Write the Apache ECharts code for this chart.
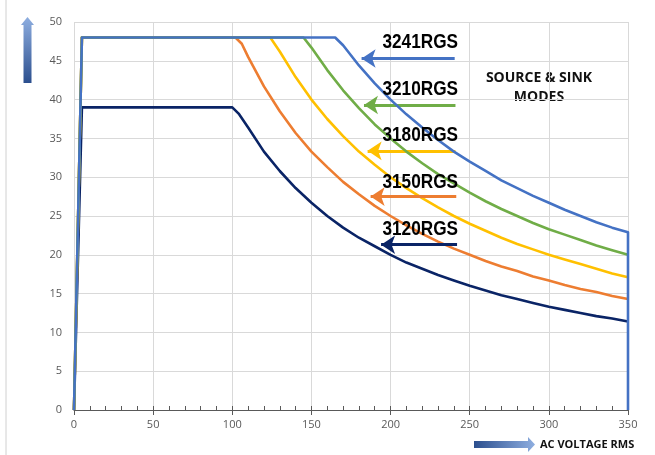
<!DOCTYPE html>
<html><head><meta charset="utf-8">
<script src="https://cdn.jsdelivr.net/npm/echarts@6/dist/echarts.min.js"></script>
<style>html,body{margin:0;padding:0;background:#fff}#c{width:655px;height:455px}</style>
</head><body><div id="c"></div>
<script>
// ---- data ----
const models = ['3120RGS','3150RGS','3180RGS','3210RGS','3241RGS'];
const colors = ['#0a2466','#ED7D31','#FFC000','#70AD47','#4472C4'];

const v3241 = [0,5,165,170,180,190,200,210,220,230,240,250,260,270,280,290,300,310,320,330,340,350,350];
const a3241 = [0,48,48,47,44.4,42.1,40,38.1,36.4,34.8,33.3,32,30.8,29.6,28.6,27.6,26.7,25.8,25,24.2,23.5,22.9,0];

const v3210 = [0,5,145,150,160,170,180,190,200,210,220,230,240,250,260,270,280,290,300,310,320,330,340,350];
const a3210 = [0,48,48,46.7,43.8,41.2,38.9,36.8,35,33.3,31.8,30.4,29.2,28,26.9,25.9,25,24.1,23.3,22.6,21.9,21.2,20.6,20];

const v3180 = [0,5,124,130,140,150,160,170,180,190,200,210,220,230,240,250,260,270,280,290,300,310,320,330,340,350];
const a3180 = [0,48,48,46.2,42.9,40,37.5,35.3,33.3,31.6,30,28.6,27.3,26.1,25,24,23.1,22.2,21.4,20.7,20,19.4,18.8,18.2,17.6,17.1];

const v3150 = [0,5,102,106,110,120,130,140,150,160,170,180,190,200,210,220,230,240,250,260,270,280,290,300,310,320,330,340,350];
const a3150 = [0,48,48,47.2,45.5,41.7,38.5,35.7,33.3,31.3,29.4,27.8,26.3,25,23.8,22.7,21.7,20.8,20,19.2,18.5,17.9,17.2,16.7,16.1,15.6,15.2,14.7,14.3];

const v3120 = [0,5,100,104,110,120,130,140,150,160,170,180,190,200,210,220,230,240,250,260,270,280,290,300,310,320,330,340,350];
const a3120 = [0,39,39,38.2,36.4,33.3,30.8,28.6,26.7,25,23.5,22.2,21.1,20,19,18.2,17.4,16.7,16,15.4,14.8,14.3,13.8,13.3,12.9,12.5,12.1,11.8,11.4];

// arrow annotations: [tipX, tailX, y]
const arrows = [[194,242,21.3],[187.4,241.5,27.5],[185.5,241,33.4],[183.2,241,39.3],[181.7,240.5,45.3]];
const labelY = [229,182.5,135.5,89,42.5];

const xTicks = {min:0,max:350,interval:50};
const yTicks = {min:0,max:50,interval:5};
// ---------------------------------------

const volts = [v3120,v3150,v3180,v3210,v3241];
const amps  = [a3120,a3150,a3180,a3210,a3241];

const chart = echarts.init(document.getElementById('c'));
const series = models.map((m,i)=>({
  name:m, type:'line', xAxisIndex:0, yAxisIndex:0,
  data: volts[i].map((v,k)=>[v,amps[i][k]]),
  showSymbol:false, smooth:false,
  lineStyle:{color:colors[i],width:2.6,join:'round'},
  itemStyle:{color:colors[i]},
  z: 2+i,
  markLine:{
    silent:true, animation:false,
    symbol:['none','arrow'], symbolSize:[14,14],
    label:{show:false},
    lineStyle:{color:colors[i],width:3,type:'solid'},
    data:[[{coord:[arrows[i][1],arrows[i][2]]},{coord:[arrows[i][0],arrows[i][2]]}]]
  }
}));

const graphics = [
  {type:'line',shape:{x1:6,y1:0,x2:6,y2:455},style:{stroke:'#d0d0d0',lineWidth:1}},
  // y-axis arrow (up)
  {type:'polygon',shape:{points:[[23.5,83],[23.5,25],[21,25],[27.5,17],[34,25],[31.5,25],[31.5,83]]},
   style:{fill:new echarts.graphic.LinearGradient(0,0,0,1,[{offset:0,color:'#8eaee0'},{offset:1,color:'#2c4f8e'}])}},
  // x-axis arrow (right)
  {type:'polygon',shape:{points:[[474,441],[528,441],[528,437],[535,444.5],[528,452],[528,448],[474,448]]},
   style:{fill:new echarts.graphic.LinearGradient(0,0,1,0,[{offset:0,color:'#2c4f8e'},{offset:1,color:'#8eaee0'}])}},
  {type:'text',x:540,y:444.5,style:{text:'AC VOLTAGE RMS',font:'bold 11px "Open Sans", "Liberation Sans", sans-serif',fill:'#111',textVerticalAlign:'middle'}},
  {type:'text',x:539,y:78,style:{text:'SOURCE & SINK',font:'bold 14px "Open Sans", "Liberation Sans", sans-serif',fill:'#111',textAlign:'center',textVerticalAlign:'middle'}},
  {type:'text',x:539,y:97,style:{text:'MODES',font:'bold 14px "Open Sans", "Liberation Sans", sans-serif',fill:'#111',textAlign:'center',textVerticalAlign:'middle'}}
];
models.forEach((m,i)=>{
  graphics.push({type:'text',x:458,y:labelY[i],scaleX:0.86,z:100,style:{text:m,font:'bold 20px "Liberation Sans", sans-serif',fill:'#000',textAlign:'right',textVerticalAlign:'middle'}});
});

chart.setOption({
  animation:false,
  backgroundColor:'#fff',
  grid:{left:74,right:27,top:22,bottom:45},
  xAxis:[
    {type:'value',min:xTicks.min,max:xTicks.max,interval:xTicks.interval,
     axisLine:{show:true,lineStyle:{color:'#595959',width:1.2}},
     axisTick:{show:true,inside:false,length:5,lineStyle:{color:'#595959'}},
     axisLabel:{color:'#595959',fontSize:11,margin:9,fontFamily:'"Open Sans", "Liberation Sans", sans-serif'},
     splitLine:{show:true,lineStyle:{color:'#d9d9d9',width:1}}},
    {type:'value',min:xTicks.min,max:xTicks.max,interval:10,position:'bottom',
     axisLine:{show:false},axisLabel:{show:false},splitLine:{show:false},
     axisTick:{show:true,inside:true,length:4,lineStyle:{color:'#595959'}}}
  ],
  yAxis:{type:'value',min:yTicks.min,max:yTicks.max,interval:yTicks.interval,
     axisLine:{show:false},axisTick:{show:false},
     axisLabel:{color:'#595959',fontSize:11,margin:12,fontFamily:'"Open Sans", "Liberation Sans", sans-serif'},
     splitLine:{show:true,lineStyle:{color:'#d9d9d9',width:1}}},
  series:series,
  graphic:graphics
});
</script></body></html>
